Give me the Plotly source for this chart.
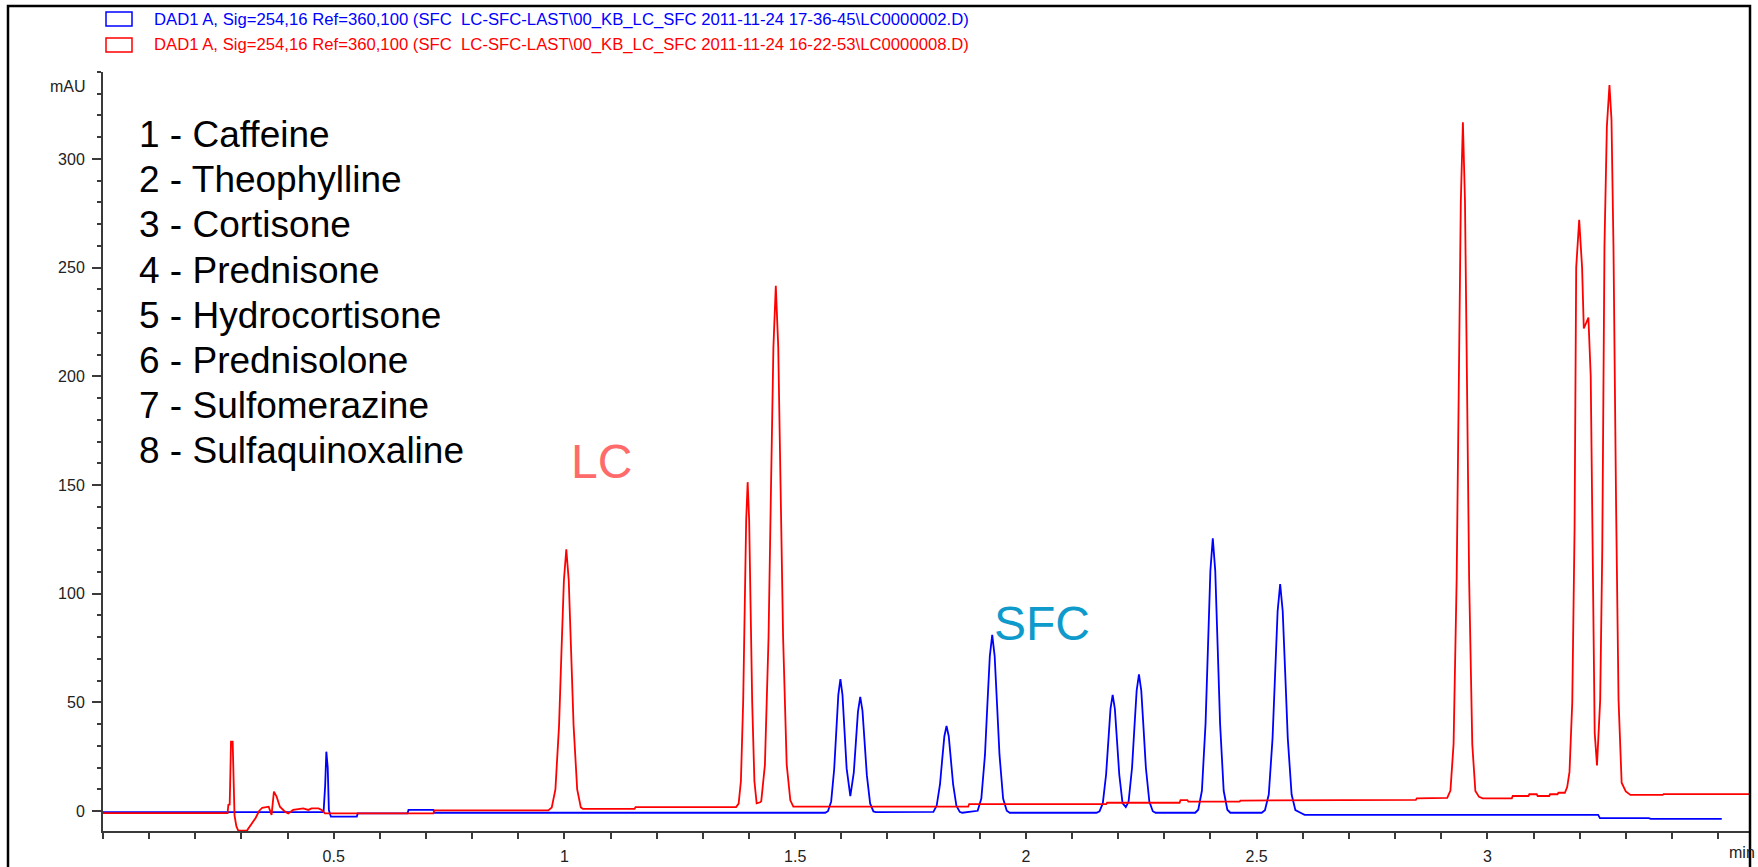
import plotly.graph_objects as go

# ---------------- data ----------------
# SFC run (blue)
sfc_time = [0.0, 0.478, 0.4814, 0.484, 0.487, 0.4895, 0.4938, 0.550, 0.552, 0.660, 0.662, 0.716, 0.718,
            1.565, 1.571, 1.578, 1.5845, 1.589, 1.5935, 1.598, 1.6025, 1.607, 1.6115, 1.6195,
            1.627, 1.6315, 1.636, 1.641, 1.6458, 1.6505, 1.6553, 1.6624, 1.6695, 1.675,
            1.7995, 1.8066, 1.8138, 1.8185, 1.8233, 1.828, 1.8328, 1.8375, 1.8423, 1.8494, 1.8565, 1.862,
            1.8955, 1.9034, 1.9113, 1.9165, 1.9218, 1.927, 1.9323, 1.9375, 1.9428, 1.9506, 1.9585, 1.965,
            2.153, 2.1595, 2.1666, 2.1738, 2.1785, 2.1833, 2.188, 2.1928, 2.1975, 2.2023, 2.2094, 2.2165,
            2.2225, 2.230, 2.235, 2.240, 2.245, 2.250, 2.255, 2.260, 2.2675, 2.275, 2.281,
            2.367, 2.3735, 2.3814, 2.3893, 2.3945, 2.3998, 2.405, 2.4103, 2.4155, 2.4208, 2.4286, 2.4365, 2.443,
            2.511, 2.518, 2.5263, 2.5345, 2.540, 2.5455, 2.551, 2.5565, 2.562, 2.5675, 2.5758, 2.584, 2.595, 2.604,
            3.240, 3.244, 3.350, 3.354, 3.508]
sfc_mau = [-0.5, -0.5, 11.5, 27.3, 20.0, 0.4, -2.6, -2.6, -1.1, -1.1, 0.5, 0.5, -0.8,
           -0.8, -0.1, 4.4, 19.2, 36.5, 53.4, 60.7, 53.4, 36.6, 19.6, 6.9,
           17.6, 31.6, 45.6, 52.5, 46.2, 31.6, 16.5, 3.5, -0.2, -0.5,
           -0.4, 2.4, 12.2, 23.4, 34.4, 39.1, 34.4, 23.4, 12.2, 2.4, -0.4, -0.8,
           0.1, 5.7, 25.8, 48.9, 71.3, 81.0, 71.3, 48.9, 25.8, 5.7, 0.1, -0.8,
           -0.8, -0.2, 3.5, 16.8, 32.1, 47.0, 53.4, 47.0, 32.1, 16.8, 3.6, 1.8,
           4.3, 19.9, 37.9, 55.4, 62.9, 55.4, 37.9, 19.9, 4.3, -0.1, -0.8,
           -0.8, 0.6, 9.3, 40.2, 75.9, 110.6, 125.5, 110.6, 75.9, 40.2, 9.3, 0.6, -0.8,
           -0.8, 0.4, 7.6, 33.4, 63.1, 92.0, 104.4, 92.0, 63.1, 33.4, 7.6, 0.4, -0.8, -1.8,
           -1.8, -3.3, -3.3, -3.6, -3.6]

# LC run (red)
lc_time = [0.0, 0.270, 0.2716, 0.2745, 0.2755, 0.2774, 0.281, 0.2825, 0.285, 0.289, 0.293, 0.312,
           0.3165, 0.3237, 0.331, 0.3383, 0.345, 0.359, 0.3653, 0.3704, 0.3762, 0.3834, 0.3943, 0.4015,
           0.412, 0.434, 0.445, 0.452, 0.467, 0.474, 0.481, 0.716, 0.718, 0.965,
           0.9725, 0.9804, 0.9883, 0.9935, 0.9988, 1.004, 1.0093, 1.0145, 1.0198, 1.0276, 1.0355, 1.040,
           1.152, 1.154, 1.372,
           1.3775, 1.3824, 1.3873, 1.3905, 1.3938, 1.397, 1.4003, 1.4035, 1.4068, 1.4116, 1.4165, 1.424,
           1.4265, 1.4344, 1.4423, 1.4475, 1.4528, 1.458, 1.4633, 1.4685, 1.4738, 1.4816, 1.4895, 1.496,
           1.875, 1.877, 2.174, 2.176, 2.333, 2.335, 2.350, 2.352, 2.463, 2.465, 2.760, 2.762, 2.845, 2.847, 2.913,
           2.920, 2.9268, 2.9335, 2.938, 2.9425, 2.947, 2.9515, 2.956, 2.9605, 2.9673, 2.974, 2.982, 2.990,
           3.053, 3.055, 3.089, 3.091, 3.107, 3.109, 3.134, 3.136, 3.152, 3.154, 3.168,
           3.173, 3.178, 3.184, 3.189, 3.1925, 3.199, 3.2053, 3.209, 3.214, 3.219, 3.224, 3.228, 3.2326,
           3.2376, 3.2426, 3.2445, 3.249, 3.2538, 3.259, 3.2646, 3.269, 3.2733, 3.279, 3.2843, 3.291,
           3.300, 3.310, 3.380, 3.382, 3.567]
lc_mau = [-1.0, -1.0, 2.8, 3.0, 12.0, 31.9, 31.9, 11.0, -2.0, -7.0, -9.0, -9.0,
          -7.7, -5.4, -3.1, 0.0, 1.5, 2.0, -1.8, 8.9, 6.6, 2.0, -0.3, -1.1,
          0.5, 1.2, 0.5, 1.2, 1.2, 0.5, -1.1, -1.1, 0.3, 0.3,
          1.6, 9.9, 39.3, 73.2, 106.2, 120.4, 106.2, 73.2, 39.3, 9.9, 1.6, 1.0,
          1.0, 1.8, 1.8,
          3.4, 13.8, 50.4, 92.5, 133.7, 151.3, 133.7, 92.5, 50.4, 13.8, 3.5, 4.0,
          4.6, 21.2, 79.9, 147.4, 213.3, 241.6, 213.5, 147.6, 80.1, 21.4, 4.9, 2.0,
          2.0, 3.2, 3.2, 3.8, 3.8, 5.0, 5.0, 4.3, 4.3, 4.8, 4.8, 5.1, 5.1, 5.8, 6.0,
          9.4, 30.9, 107.1, 194.8, 280.3, 316.9, 280.3, 194.8, 107.0, 30.7, 9.2, 6.5, 5.8,
          5.8, 6.9, 6.9, 7.7, 7.7, 6.9, 6.9, 7.7, 7.7, 8.4, 8.4,
          11.0, 18.0, 50.0, 130.0, 250.0, 272.0, 250.0, 222.0, 225.0, 227.0, 200.0, 120.0, 36.0,
          21.0, 39.6, 51.0, 120.0, 260.0, 315.0, 334.0, 318.0, 260.0, 140.0, 51.0, 13.0,
          9.0, 7.4, 7.4, 7.8, 7.8]

compounds = ["1 - Caffeine", "2 - Theophylline", "3 - Cortisone", "4 - Prednisone",
             "5 - Hydrocortisone", "6 - Prednisolone", "7 - Sulfomerazine", "8 - Sulfaquinoxaline"]

legend_texts = [
    "DAD1 A, Sig=254,16 Ref=360,100 (SFC \u00a0LC-SFC-LAST\\00_KB_LC_SFC 2011-11-24 17-36-45\\LC0000002.D)",
    "DAD1 A, Sig=254,16 Ref=360,100 (SFC \u00a0LC-SFC-LAST\\00_KB_LC_SFC 2011-11-24 16-22-53\\LC0000008.D)",
]
legend_colors = ["#0000FF", "#FF0000"]

x_tick_vals = [0.5, 1, 1.5, 2, 2.5, 3]
x_tick_text = ["0.5", "1", "1.5", "2", "2.5", "3"]
y_tick_vals = [0, 50, 100, 150, 200, 250, 300]

# ---------------- figure ----------------
W, H = 1758, 867
L, R, T, B = 103, 9, 72, 36
PW, PH = W - L - R, H - T - B


def px(X):
    return (X - L) / PW


def py(Y):
    return (H - B - Y) / PH


FONT = "Arial, 'Liberation Sans', sans-serif"
AX = "#3a3a3a"

fig = go.Figure()
fig.add_trace(go.Scatter(x=sfc_time, y=sfc_mau, mode="lines",
                         line=dict(color="#0000FF", width=1.8), showlegend=False, hoverinfo="skip"))
fig.add_trace(go.Scatter(x=lc_time, y=lc_mau, mode="lines",
                         line=dict(color="#FF0000", width=1.8), showlegend=False, hoverinfo="skip"))

fig.update_layout(
    width=W, height=H, autosize=False,
    margin=dict(l=L, r=R, t=T, b=B, pad=0, autoexpand=False),
    paper_bgcolor="white", plot_bgcolor="white",
    font=dict(family=FONT, size=16, color="#222"),
    showlegend=False,
)
fig.update_xaxes(range=[0, 3.567], showgrid=False, zeroline=False, automargin=False,
                 showline=True, linecolor=AX, linewidth=2,
                 ticks="outside", ticklen=6, tickwidth=1.5, tickcolor=AX,
                 tickvals=x_tick_vals, ticktext=x_tick_text,
                 tickfont=dict(family=FONT, size=16, color="#222"),
                 ticklabelstandoff=4,
                 minor=dict(ticks="outside", tick0=0, dtick=0.1, ticklen=6, tickwidth=1.5, tickcolor=AX))
fig.update_yaxes(range=[-9.2, 340.01], showgrid=False, zeroline=False, automargin=False,
                 showline=True, linecolor=AX, linewidth=2,
                 ticks="outside", ticklen=9, tickwidth=1.5, tickcolor=AX,
                 tickvals=y_tick_vals,
                 tickfont=dict(family=FONT, size=16, color="#222"),
                 ticklabelstandoff=4,
                 minor=dict(ticks="outside", tick0=0, dtick=10, ticklen=4, tickwidth=1.5, tickcolor=AX))

shapes = []
annotations = []

# outer frame
shapes.append(dict(type="rect", xref="paper", yref="paper",
                   x0=px(8), x1=px(1750), y0=py(880), y1=py(6),
                   line=dict(color="black", width=2.5), fillcolor="rgba(0,0,0,0)", layer="above"))

# legend
legend_box_y = [(12, 26), (38, 52)]
legend_text_y = [19, 45]
for i, txt in enumerate(legend_texts):
    y0, y1 = legend_box_y[i]
    shapes.append(dict(type="rect", xref="paper", yref="paper",
                       x0=px(106), x1=px(132), y0=py(y1), y1=py(y0),
                       line=dict(color=legend_colors[i], width=1.5), fillcolor="white"))
    annotations.append(dict(xref="paper", yref="paper", x=px(152), y=py(legend_text_y[i]),
                            xanchor="left", yanchor="middle", showarrow=False, text=txt,
                            font=dict(family=FONT, size=16.7, color=legend_colors[i])))

# axis unit labels
annotations.append(dict(xref="paper", yref="paper", x=px(88), y=py(86), xanchor="right", yanchor="middle",
                        showarrow=False, text="mAU", font=dict(family=FONT, size=16, color="#222")))
annotations.append(dict(xref="paper", yref="paper", x=px(1727), y=py(852), xanchor="left", yanchor="middle",
                        showarrow=False, text="min", font=dict(family=FONT, size=16, color="#222")))

# compound list
for i, name in enumerate(compounds):
    annotations.append(dict(xref="paper", yref="paper", x=px(137), y=py(135 + 45.0 * i),
                            xanchor="left", yanchor="middle", showarrow=False, text=name,
                            font=dict(family=FONT, size=37, color="black")))

# run labels
annotations.append(dict(xref="paper", yref="paper", x=px(601), y=py(462), xanchor="center", yanchor="middle",
                        showarrow=False, text="LC", font=dict(family=FONT, size=48, color="#FF6B6B")))
annotations.append(dict(xref="paper", yref="paper", x=px(1042), y=py(623), xanchor="center", yanchor="middle",
                        showarrow=False, text="SFC", font=dict(family=FONT, size=48, color="#0E9ACB")))

fig.update_layout(shapes=shapes, annotations=annotations)

fig.write_html("out.html", config={"displayModeBar": False},
               post_script="document.body.style.margin='0';document.body.style.overflow='hidden';")
